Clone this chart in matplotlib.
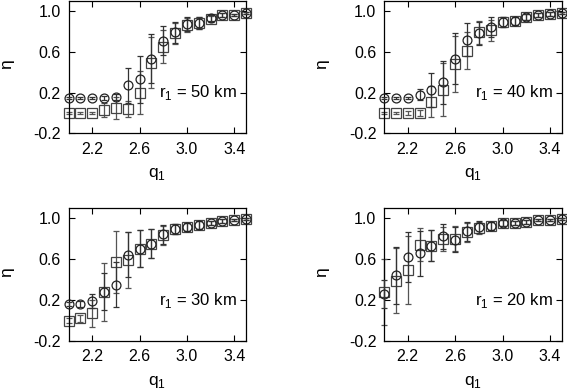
import matplotlib
matplotlib.use("Agg")
import matplotlib.pyplot as plt

plt.rcParams['font.family'] = ['Liberation Sans', 'DejaVu Sans']

# Valores de q1 (comunes a los cuatro paneles)
q1 = [2.0, 2.1, 2.2, 2.3, 2.4, 2.5, 2.6, 2.7, 2.8, 2.9, 3.0, 3.1, 3.2, 3.3, 3.4, 3.5]

# r1 = 50 km
circ_50 = [0.15, 0.15, 0.15, 0.15, 0.16, 0.27, 0.33, 0.53, 0.71, 0.79, 0.87, 0.885, 0.93, 0.96, 0.965, 0.98]
circ_err_50 = [0.01, 0.01, 0.01, 0.02, 0.03, 0.17, 0.23, 0.24, 0.14, 0.10, 0.07, 0.06, 0.03, 0.02, 0.01, 0.01]
sq_50 = [0.0, 0.0, 0.0, 0.03, 0.05, 0.04, 0.20, 0.49, 0.65, 0.78, 0.86, 0.88, 0.92, 0.96, 0.965, 0.98]
sq_err_50 = [0.01, 0.01, 0.01, 0.07, 0.11, 0.08, 0.21, 0.25, 0.16, 0.10, 0.07, 0.06, 0.03, 0.02, 0.01, 0.01]

# r1 = 40 km
circ_40 = [0.15, 0.15, 0.15, 0.18, 0.225, 0.30, 0.53, 0.72, 0.78, 0.84, 0.895, 0.905, 0.945, 0.96, 0.975, 0.98]
circ_err_40 = [0.01, 0.01, 0.01, 0.05, 0.17, 0.21, 0.25, 0.16, 0.11, 0.10, 0.05, 0.04, 0.03, 0.02, 0.02, 0.01]
sq_40 = [0.0, 0.0, 0.0, 0.0, 0.11, 0.225, 0.48, 0.61, 0.79, 0.81, 0.895, 0.905, 0.945, 0.96, 0.975, 0.98]
sq_err_40 = [0.01, 0.01, 0.02, 0.03, 0.15, 0.26, 0.27, 0.18, 0.11, 0.10, 0.05, 0.04, 0.03, 0.02, 0.02, 0.01]

# r1 = 30 km
circ_30 = [0.16, 0.16, 0.19, 0.28, 0.35, 0.64, 0.70, 0.75, 0.84, 0.89, 0.915, 0.93, 0.955, 0.97, 0.98, 0.99]
circ_err_30 = [0.02, 0.03, 0.07, 0.18, 0.22, 0.22, 0.18, 0.14, 0.09, 0.05, 0.04, 0.04, 0.02, 0.02, 0.01, 0.01]
sq_30 = [0.0, 0.02, 0.07, 0.28, 0.57, 0.59, 0.70, 0.75, 0.83, 0.89, 0.915, 0.93, 0.955, 0.97, 0.98, 0.99]
sq_err_30 = [0.02, 0.03, 0.13, 0.28, 0.30, 0.27, 0.18, 0.14, 0.09, 0.05, 0.04, 0.04, 0.02, 0.02, 0.01, 0.01]

# r1 = 20 km
circ_20 = [0.26, 0.44, 0.62, 0.655, 0.73, 0.82, 0.79, 0.87, 0.91, 0.92, 0.95, 0.955, 0.965, 0.98, 0.985, 0.99]
circ_err_20 = [0.14, 0.28, 0.24, 0.22, 0.15, 0.12, 0.12, 0.09, 0.06, 0.04, 0.03, 0.02, 0.02, 0.01, 0.01, 0.01]
sq_20 = [0.28, 0.39, 0.49, 0.74, 0.73, 0.795, 0.80, 0.86, 0.90, 0.92, 0.95, 0.955, 0.965, 0.98, 0.985, 0.99]
sq_err_20 = [0.32, 0.32, 0.33, 0.16, 0.15, 0.12, 0.12, 0.09, 0.06, 0.04, 0.03, 0.02, 0.02, 0.01, 0.01, 0.01]

paneles = [
    ("r$_\\mathregular{1}$ = 50 km", circ_50, circ_err_50, sq_50, sq_err_50),
    ("r$_\\mathregular{1}$ = 40 km", circ_40, circ_err_40, sq_40, sq_err_40),
    ("r$_\\mathregular{1}$ = 30 km", circ_30, circ_err_30, sq_30, sq_err_30),
    ("r$_\\mathregular{1}$ = 20 km", circ_20, circ_err_20, sq_20, sq_err_20),
]

W, H = 567, 391
fig = plt.figure(figsize=(W / 100, H / 100), dpi=100)

# posiciones de los ejes en pixeles: (izq, arriba, ancho, alto)
cajas = [(68.5, 0.8, 177.5, 132.5), (384, 0.8, 178, 132.5),
         (68.5, 207.8, 177.5, 133.2), (384, 207.8, 178, 133.2)]

for (texto, circ, circ_err, sq, sq_err), (x0, y0, w, h) in zip(paneles, cajas):
    ax = fig.add_axes([x0 / W, (H - y0 - h) / H, w / W, h / H])

    ax.errorbar(q1, sq, yerr=sq_err, fmt='s', ms=7.4, mfc='none', mec='#444444',
                mew=0.9, ecolor='#555555', elinewidth=0.9, capsize=2, capthick=0.9,
                clip_on=False, zorder=2)
    ax.errorbar(q1, circ, yerr=circ_err, fmt='o', ms=6.4, mfc='none', mec='#222222',
                mew=0.9, ecolor='#333333', elinewidth=0.9, capsize=2, capthick=0.9,
                clip_on=False, zorder=3)

    ax.set_xlim(2.0, 3.5)
    ax.set_ylim(-0.2, 1.1)
    ax.set_xticks([2.2, 2.6, 3.0, 3.4])
    ax.set_yticks([-0.2, 0.2, 0.6, 1.0])
    ax.set_xticklabels(["2.2", "2.6", "3.0", "3.4"])
    ax.set_yticklabels(["-0.2", "0.2", "0.6", "1.0"])
    ax.tick_params(direction='in', top=True, right=True, length=4.5, width=0.8,
                   labelsize=11.5)
    ax.tick_params(axis='x', pad=6)
    ax.tick_params(axis='y', pad=5.5)
    for s in ax.spines.values():
        s.set_linewidth(0.9)

    ax.set_xlabel("q$_\\mathregular{1}$", fontsize=12.5, va='center')
    ax.set_ylabel("η", fontsize=12.5, va='center')
    ax.xaxis.set_label_coords(0.5, -0.31)
    ax.yaxis.set_label_coords(-0.35, 0.52)

    ax.text(0.95, 0.305, texto, transform=ax.transAxes, ha='right', va='center',
            fontsize=12, zorder=5)

fig.savefig("out.png", dpi=100)
